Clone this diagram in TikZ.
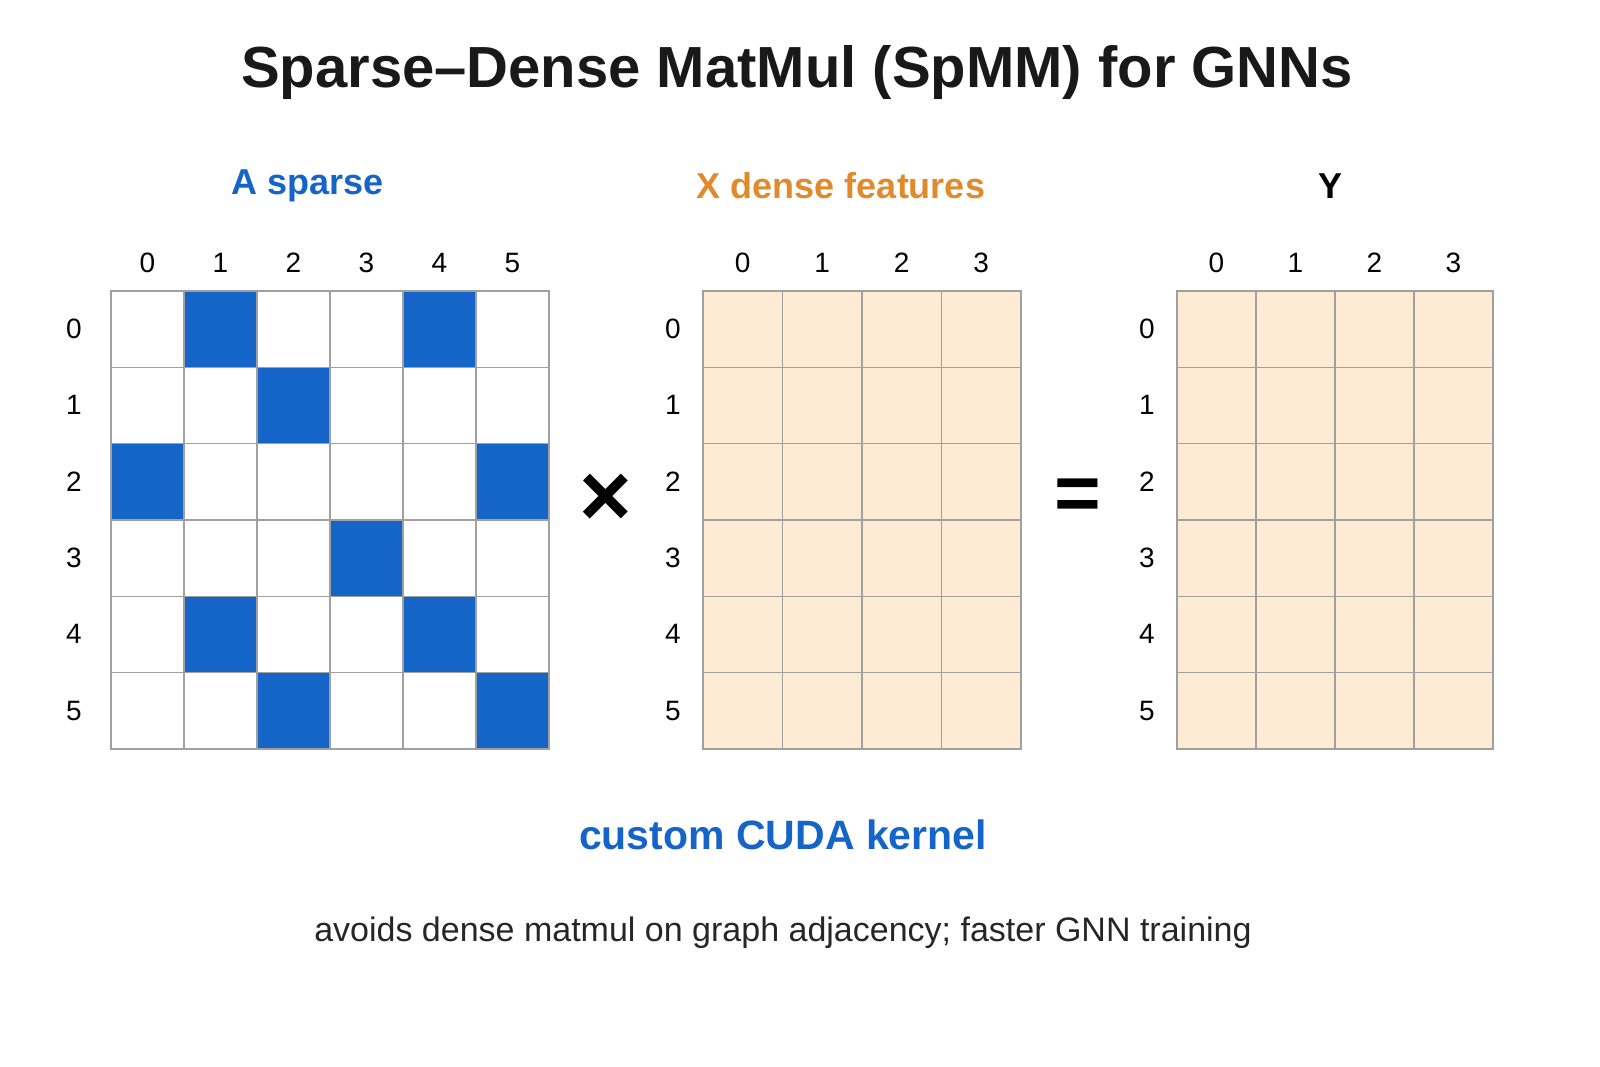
\documentclass[tikz,border=0pt]{standalone}
\usepackage{fontspec}
\setmainfont{Liberation Sans}
\definecolor{ablue}{HTML}{1565C8}
\definecolor{xorange}{HTML}{E08A2E}
\definecolor{peach}{HTML}{FDEBD3}
\definecolor{gridc}{HTML}{A0A0A0}
\begin{document}
\begin{tikzpicture}[x=1pt,y=-1pt,
  lab/.style={font=\fontsize{28}{32}\selectfont},
  hdr/.style={font=\fontsize{36}{40}\selectfont\bfseries},
  cell/.style={draw=gridc,line width=1.2pt}]
\useasboundingbox (0,0) rectangle (1600,1066);
\node[font=\fontsize{58}{64}\selectfont\bfseries,text=black!90] (title) at (797,72) {Sparse–Dense MatMul (SpMM) for GNNs};
\node[hdr,text=ablue] (ha) at (308,186) {A sparse};
\node[hdr,text=xorange] (hx) at (841,186) {X dense features};
\node[hdr] (hy) at (1330,186) {Y};
% A grid
\def\rh{76.33}
\foreach \r/\cs in {0/{1,4},1/{2},2/{0,5},3/{3},4/{1,4},5/{2,5}}{
  \foreach \c in \cs {\fill[ablue] (111+\c*73,291+\r*\rh) rectangle ++(73,\rh);}}
\foreach \r in {0,...,5}{\foreach \c in {0,...,5}{\draw[cell] (111+\c*73,291+\r*\rh) rectangle ++(73,\rh);}}
\foreach \c in {0,...,5}{\node[lab] (ac\c) at (147.5+\c*73,263) {\c};}
\foreach \r in {0,...,5}{\node[lab] (ar\r) at (74,329+\r*\rh) {\r};}
% X grid
\foreach \r in {0,...,5}{\foreach \c in {0,...,3}{\draw[cell,fill=peach] (703+\c*79.5,291+\r*\rh) rectangle ++(79.5,\rh);}}
\foreach \c in {0,...,3}{\node[lab] (xc\c) at (742.75+\c*79.5,263) {\c};}
\foreach \r in {0,...,5}{\node[lab] (xr\r) at (673,329+\r*\rh) {\r};}
% Y grid
\foreach \r in {0,...,5}{\foreach \c in {0,...,3}{\draw[cell,fill=peach] (1177+\c*79,291+\r*\rh) rectangle ++(79,\rh);}}
\foreach \c in {0,...,3}{\node[lab] (yc\c) at (1216.5+\c*79,263) {\c};}
\foreach \r in {0,...,5}{\node[lab] (yr\r) at (1147,329+\r*\rh) {\r};}
\node[font=\fontsize{90}{90}\selectfont\bfseries] (times) at (606,500) {×};
\node[font=\fontsize{80}{80}\selectfont\bfseries] (eq) at (1078,500) {=};
\node[font=\fontsize{41}{46}\selectfont\bfseries,text=ablue] (cuda) at (783,835) {custom CUDA kernel};
\node[font=\fontsize{34}{38}\selectfont,text=black!85] (note) at (783,933) {avoids dense matmul on graph adjacency; faster GNN training};
\end{tikzpicture}
\end{document}
